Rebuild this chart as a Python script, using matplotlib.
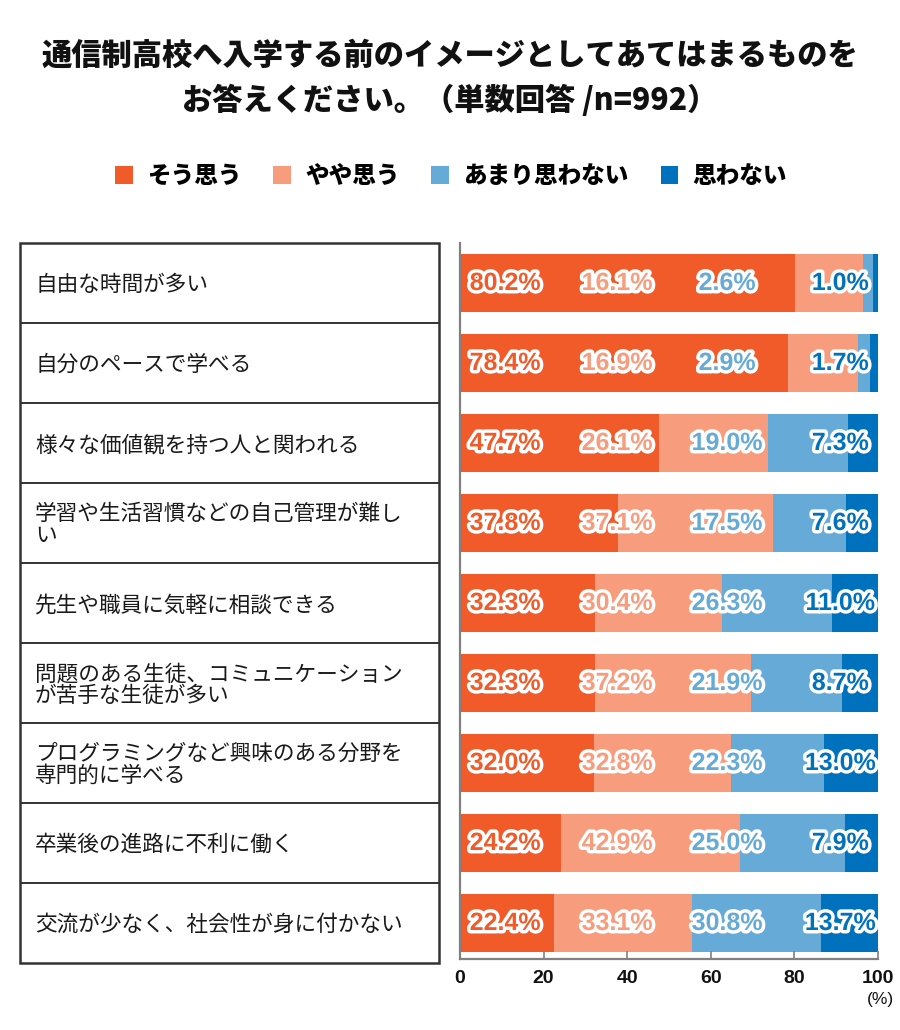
import matplotlib
matplotlib.use("Agg")
import matplotlib.pyplot as plt
import matplotlib.patheffects as pe
from matplotlib.patches import Patch, Rectangle
import numpy as np

plt.rcParams['font.family'] = ['Noto Sans CJK JP', 'DejaVu Sans']

# ---------------- data ----------------
title_lines = ["通信制高校へ入学する前のイメージとしてあてはまるものを",
               "お答えください。（単数回答 /n=992）"]
series_names = ["そう思う", "やや思う", "あまり思わない", "思わない"]
categories = [
    "自由な時間が多い",
    "自分のペースで学べる",
    "様々な価値観を持つ人と関われる",
    "学習や生活習慣などの自己管理が難し\nい",
    "先生や職員に気軽に相談できる",
    "問題のある生徒、コミュニケーション\nが苦手な生徒が多い",
    "プログラミングなど興味のある分野を\n専門的に学べる",
    "卒業後の進路に不利に働く",
    "交流が少なく、社会性が身に付かない",
]
sou_omou = [80.2, 78.4, 47.7, 37.8, 32.3, 32.3, 32.0, 24.2, 22.4]
yaya_omou = [16.1, 16.9, 26.1, 37.1, 30.4, 37.2, 32.8, 42.9, 33.1]
amari = [2.6, 2.9, 19.0, 17.5, 26.3, 21.9, 22.3, 25.0, 30.8]
omowanai = [1.0, 1.7, 7.3, 7.6, 11.0, 8.7, 13.0, 7.9, 13.7]
xticks = [0, 20, 40, 60, 80, 100]

colors = ["#F15A29", "#F79C7D", "#66AAD7", "#0071BC"]
label_cols = [10.8, 37.6, 63.9, 91.0]   # fixed label column positions (style)

W, H = 900, 1030
fig = plt.figure(figsize=(W / 100, H / 100), dpi=100)


def px_rect(x0, y0, x1, y1):
    return [x0 / W, 1 - y1 / H, (x1 - x0) / W, (y1 - y0) / H]


# ---------------- title ----------------
fig.text(0.5, 1 - 55 / H, title_lines[0], ha="center", va="center",
         fontsize=21.8, fontweight="heavy", color="#111111")
fig.text(0.5, 1 - 100 / H, title_lines[1], ha="center", va="center",
         fontsize=21.8, fontweight="heavy", color="#111111")

# ---------------- legend ----------------
handles = [Patch(facecolor=c, edgecolor="none") for c in colors]
leg = fig.legend(handles, series_names, loc="center", ncol=4,
                 bbox_to_anchor=(451 / W, 1 - 176 / H), frameon=False,
                 prop={"size": 17, "weight": "heavy"},
                 handlelength=0.75, handleheight=0.75, handletextpad=0.6,
                 columnspacing=1.35)

# ---------------- bars ----------------
ax = fig.add_axes(px_rect(460, 243, 878, 959))
series = [sou_omou, yaya_omou, amari, omowanai]
ypos = np.arange(len(categories))
left = np.zeros(len(categories))
for vals, c in zip(series, colors):
    ax.barh(ypos, vals, left=left, height=0.72, color=c, edgecolor="none")
    left += np.array(vals)

for j, (vals, c) in enumerate(zip(series, colors)):
    for i, v in enumerate(vals):
        ax.text(label_cols[j], ypos[i], f"{v:.1f}%", ha="center", va="center",
                fontsize=18, fontweight="bold", color=c,
                family=["Liberation Sans", "DejaVu Sans"],
                path_effects=[pe.Stroke(linewidth=5, foreground="white"),
                              pe.Normal()])

ax.set_xlim(0, 100)
ax.set_ylim(8.45, -0.5)
ax.set_yticks([])
ax.set_xticks(xticks)
ax.set_xticklabels([str(t) for t in xticks], fontsize=14, fontweight="bold",
                   family=["Liberation Sans", "DejaVu Sans"])
for s in ["top", "right"]:
    ax.spines[s].set_visible(False)
for s in ["left", "bottom"]:
    ax.spines[s].set_color("#808080")
    ax.spines[s].set_linewidth(1.6)
ax.tick_params(axis="x", direction="in", length=6, width=1.2, color="#808080",
               pad=8, labelcolor="#111111")
ax.annotate("(%)", xy=(1, 0), xycoords="axes fraction", xytext=(1.5, -29),
            textcoords="offset points", ha="center", va="center",
            fontsize=12.5, family=["Liberation Sans", "DejaVu Sans"],
            color="#111111", annotation_clip=False)

# ---------------- category table ----------------
tax = fig.add_axes(px_rect(20, 243, 439, 963))
tax.set_xlim(0, 1)
tax.set_ylim(len(categories), 0)
tax.axis("off")
tax.add_patch(Rectangle((0, 0), 1, len(categories), fill=False,
                        edgecolor="#333333", linewidth=1.8, clip_on=False))
for k in range(1, len(categories)):
    tax.plot([0, 1], [k, k], color="#333333", linewidth=1.4,
             solid_capstyle="butt", clip_on=False)
for i, cat in enumerate(categories):
    lines = cat.split("\n")
    n = len(lines)
    for li, line in enumerate(lines):
        off = (li - (n - 1) / 2) * -16.0
        tax.annotate(line, xy=(0.036, i + 0.5), xycoords="data",
                     xytext=(0, off - 1.5), textcoords="offset points",
                     ha="left", va="center", fontsize=15.6, color="#1a1a1a")

fig.savefig("out.png", dpi=100)
